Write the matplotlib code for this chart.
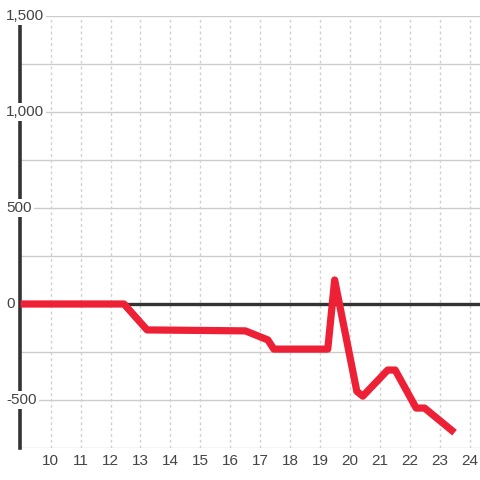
import matplotlib.pyplot as plt
from matplotlib.transforms import blended_transform_factory

# DATA
hours = [9.0, 12.45, 13.22, 16.5, 17.25, 17.45, 19.25, 19.48, 20.22, 20.42, 21.25, 21.5, 22.2, 22.48, 23.48]
values = [0, 0, -135, -140, -187, -235, -235, 125, -455, -480, -344, -344, -542, -542, -670]
x_ticks = list(range(10, 25))
y_labels = [1500, 1000, 500, 0, -500]
y_grid = [-750, -500, -250, 250, 500, 750, 1000, 1250, 1500]

# STYLE
RED = "#ee2036"
GRID = "#cccccc"
TEXT = "#444444"
DPI = 100
plt.rcParams["font.family"] = ["Liberation Sans", "DejaVu Sans"]

fig = plt.figure(figsize=(480 / DPI, 480 / DPI), dpi=DPI, facecolor="white")
ax = fig.add_axes([20 / 480, 1 - 448 / 480, 460 / 480, 432 / 480])
ax.set_xlim(8.98, 24.33)
ax.set_ylim(-750, 1500)
ax.set_facecolor("white")
for s in ax.spines.values():
    s.set_visible(False)
ax.set_xticks([])
ax.set_yticks([])

# grid
for y in y_grid:
    ax.axhline(y, color=GRID, lw=1, zorder=1)
for x in x_ticks:
    ax.axvline(x, color="#d0d0d0", lw=1, ls=(0, (2, 2.2)), zorder=1)

# zero line and left axis
ax.axhline(0, color="#333333", lw=2.4, zorder=2)
ax.axvline(8.98, ymin=0, ymax=1, color="#333333", lw=2.6, zorder=2, clip_on=False)

# series
ax.plot(hours, values, color=RED, lw=5.2, solid_joinstyle="round", solid_capstyle="butt", zorder=3)

# y labels (overlapping axis with white box)
tr = blended_transform_factory(fig.transFigure, ax.transData)
for v in y_labels:
    ax.text(6 / 480, v, f"{v:,}", transform=tr, ha="left", va="center",
            fontsize=11, color=TEXT, zorder=4,
            bbox=dict(boxstyle="square,pad=0.15", fc="white", ec="none"))

# x labels
trx = blended_transform_factory(ax.transData, fig.transFigure)
for x in x_ticks:
    ax.text(x, 1 - 461 / 480, str(x), transform=trx, ha="center", va="center",
            fontsize=11, color=TEXT)

fig.savefig("out.png", dpi=DPI, facecolor="white")
